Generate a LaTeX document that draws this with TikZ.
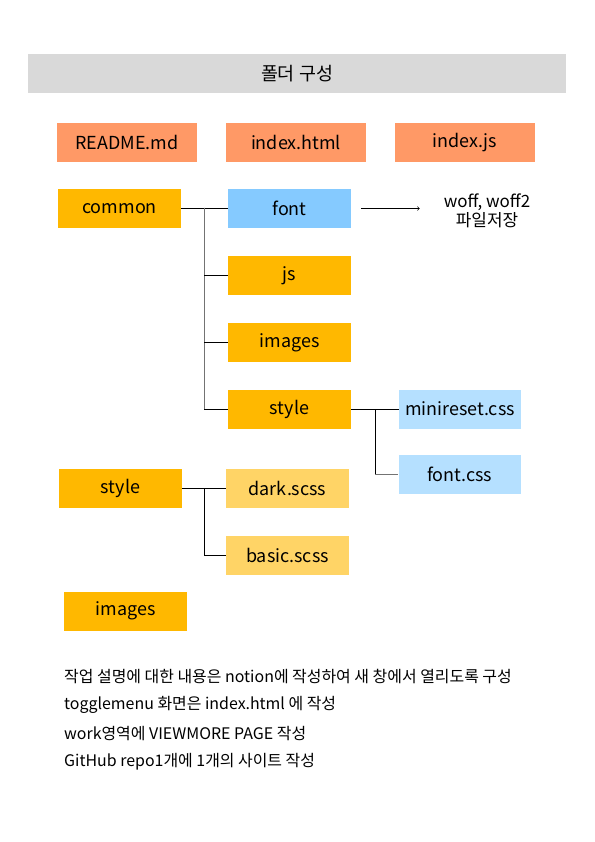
\documentclass[tikz,border=0pt]{standalone}
\usepackage{fontspec}
\setmainfont{Noto Sans CJK KR}
\definecolor{titlegray}{HTML}{D9D9D9}
\definecolor{salmon}{HTML}{FF9966}
\definecolor{gold}{HTML}{FFB800}
\definecolor{lightgold}{HTML}{FFD466}
\definecolor{skyblue}{HTML}{85CAFF}
\definecolor{paleblue}{HTML}{B5E0FF}
\begin{document}
\begin{tikzpicture}[x=1bp,y=-1bp,
  box/.style={inner sep=0pt,minimum width=123bp,minimum height=39bp,font=\fontsize{18}{20}\selectfont},
  topbox/.style={box,fill=salmon,minimum width=140bp},
  folder/.style={box,fill=gold},
  subfile/.style={box,fill=lightgold},
  fontfolder/.style={box,fill=skyblue},
  cssfile/.style={box,fill=paleblue,minimum width=122bp},
  branch/.style={line width=0.9bp,black},
  trunk/.style={line width=0.9bp,black!55},
  memo/.style={anchor=west,inner sep=0pt,font=\fontsize{16}{18}\selectfont}]
  \useasboundingbox (0,0) rectangle (595,842);

  % Titel
  \node[box,fill=titlegray,minimum width=538bp,font=\fontsize{18.5}{20}\selectfont] (title) at (297,73.5) {폴더 구성};

  % Dateien oben
  \node[topbox] (readme) at (127,142.5) {README.md};
  \node[topbox] (indexhtml) at (296,142.5) {index.html};
  \node[topbox] (indexjs) at (465,142.5) {index.js};

  % common Ordner
  \node[folder] (common) at (119.5,208.5) {common};
  \node[fontfolder] (font) at (289.5,208.5) {font};
  \node[folder] (js) at (289.5,275.5) {js};
  \node[folder] (images) at (289.5,342.5) {images};
  \node[folder] (style) at (289.5,409) {style};
  \node[align=center,inner sep=0pt,font=\fontsize{17}{19}\selectfont] (woff) at (487,211) {woff, woff2\\파일저장};

  \coordinate (t1) at (204,207.5);
  \draw[branch] (common) -- (font);
  \draw[trunk] (t1) |- (js.west);
  \draw[trunk] (t1) |- (images.west);
  \draw[trunk] (t1) |- (style.west);
  \draw[branch] (t1 |- js.west) -- (js.west);
  \draw[branch] (t1 |- images.west) -- (images.west);
  \draw[branch] (t1 |- style.west) -- (style.west);
  \draw[->,line width=0.7bp] ([xshift=10bp]font.east) -- ([xshift=-24bp]woff.west |- font.east);

  % style in common
  \node[cssfile] (minireset) at (460,409) {minireset.css};
  \node[cssfile] (fontcss) at (459.5,474) {font.css};
  \coordinate (t2) at (375,409);
  \draw[branch] (style) -- (minireset);
  \draw[branch] (t2) -- (t2 |- fontcss.west);
  \draw[trunk] (t2 |- fontcss.west) -- (fontcss.west);

  % style Ordner
  \node[folder] (scss) at (120.5,488) {style};
  \node[subfile] (dark) at (287.5,488) {dark.scss};
  \node[subfile] (basic) at (287.5,555) {basic.scss};
  \coordinate (t3) at (204,488);
  \draw[branch] (scss) -- (dark);
  \draw[branch] (t3) |- (basic.west);

  % images Ordner
  \node[folder] (img) at (125.5,611) {images};

  % Hinweise
  \node[memo] (memo1) at (64,676) {작업 설명에 대한 내용은 notion에 작성하여 새 창에서 열리도록 구성};
  \node[memo] (memo2) at (64,705) {togglemenu 화면은 index.html 에 작성};
  \node[memo] (memo3) at (64,733.5) {work영역에 VIEWMORE PAGE 작성};
  \node[memo] (memo4) at (64,762) {GitHub repo1개에 1개의 사이트 작성};
\end{tikzpicture}
\end{document}
